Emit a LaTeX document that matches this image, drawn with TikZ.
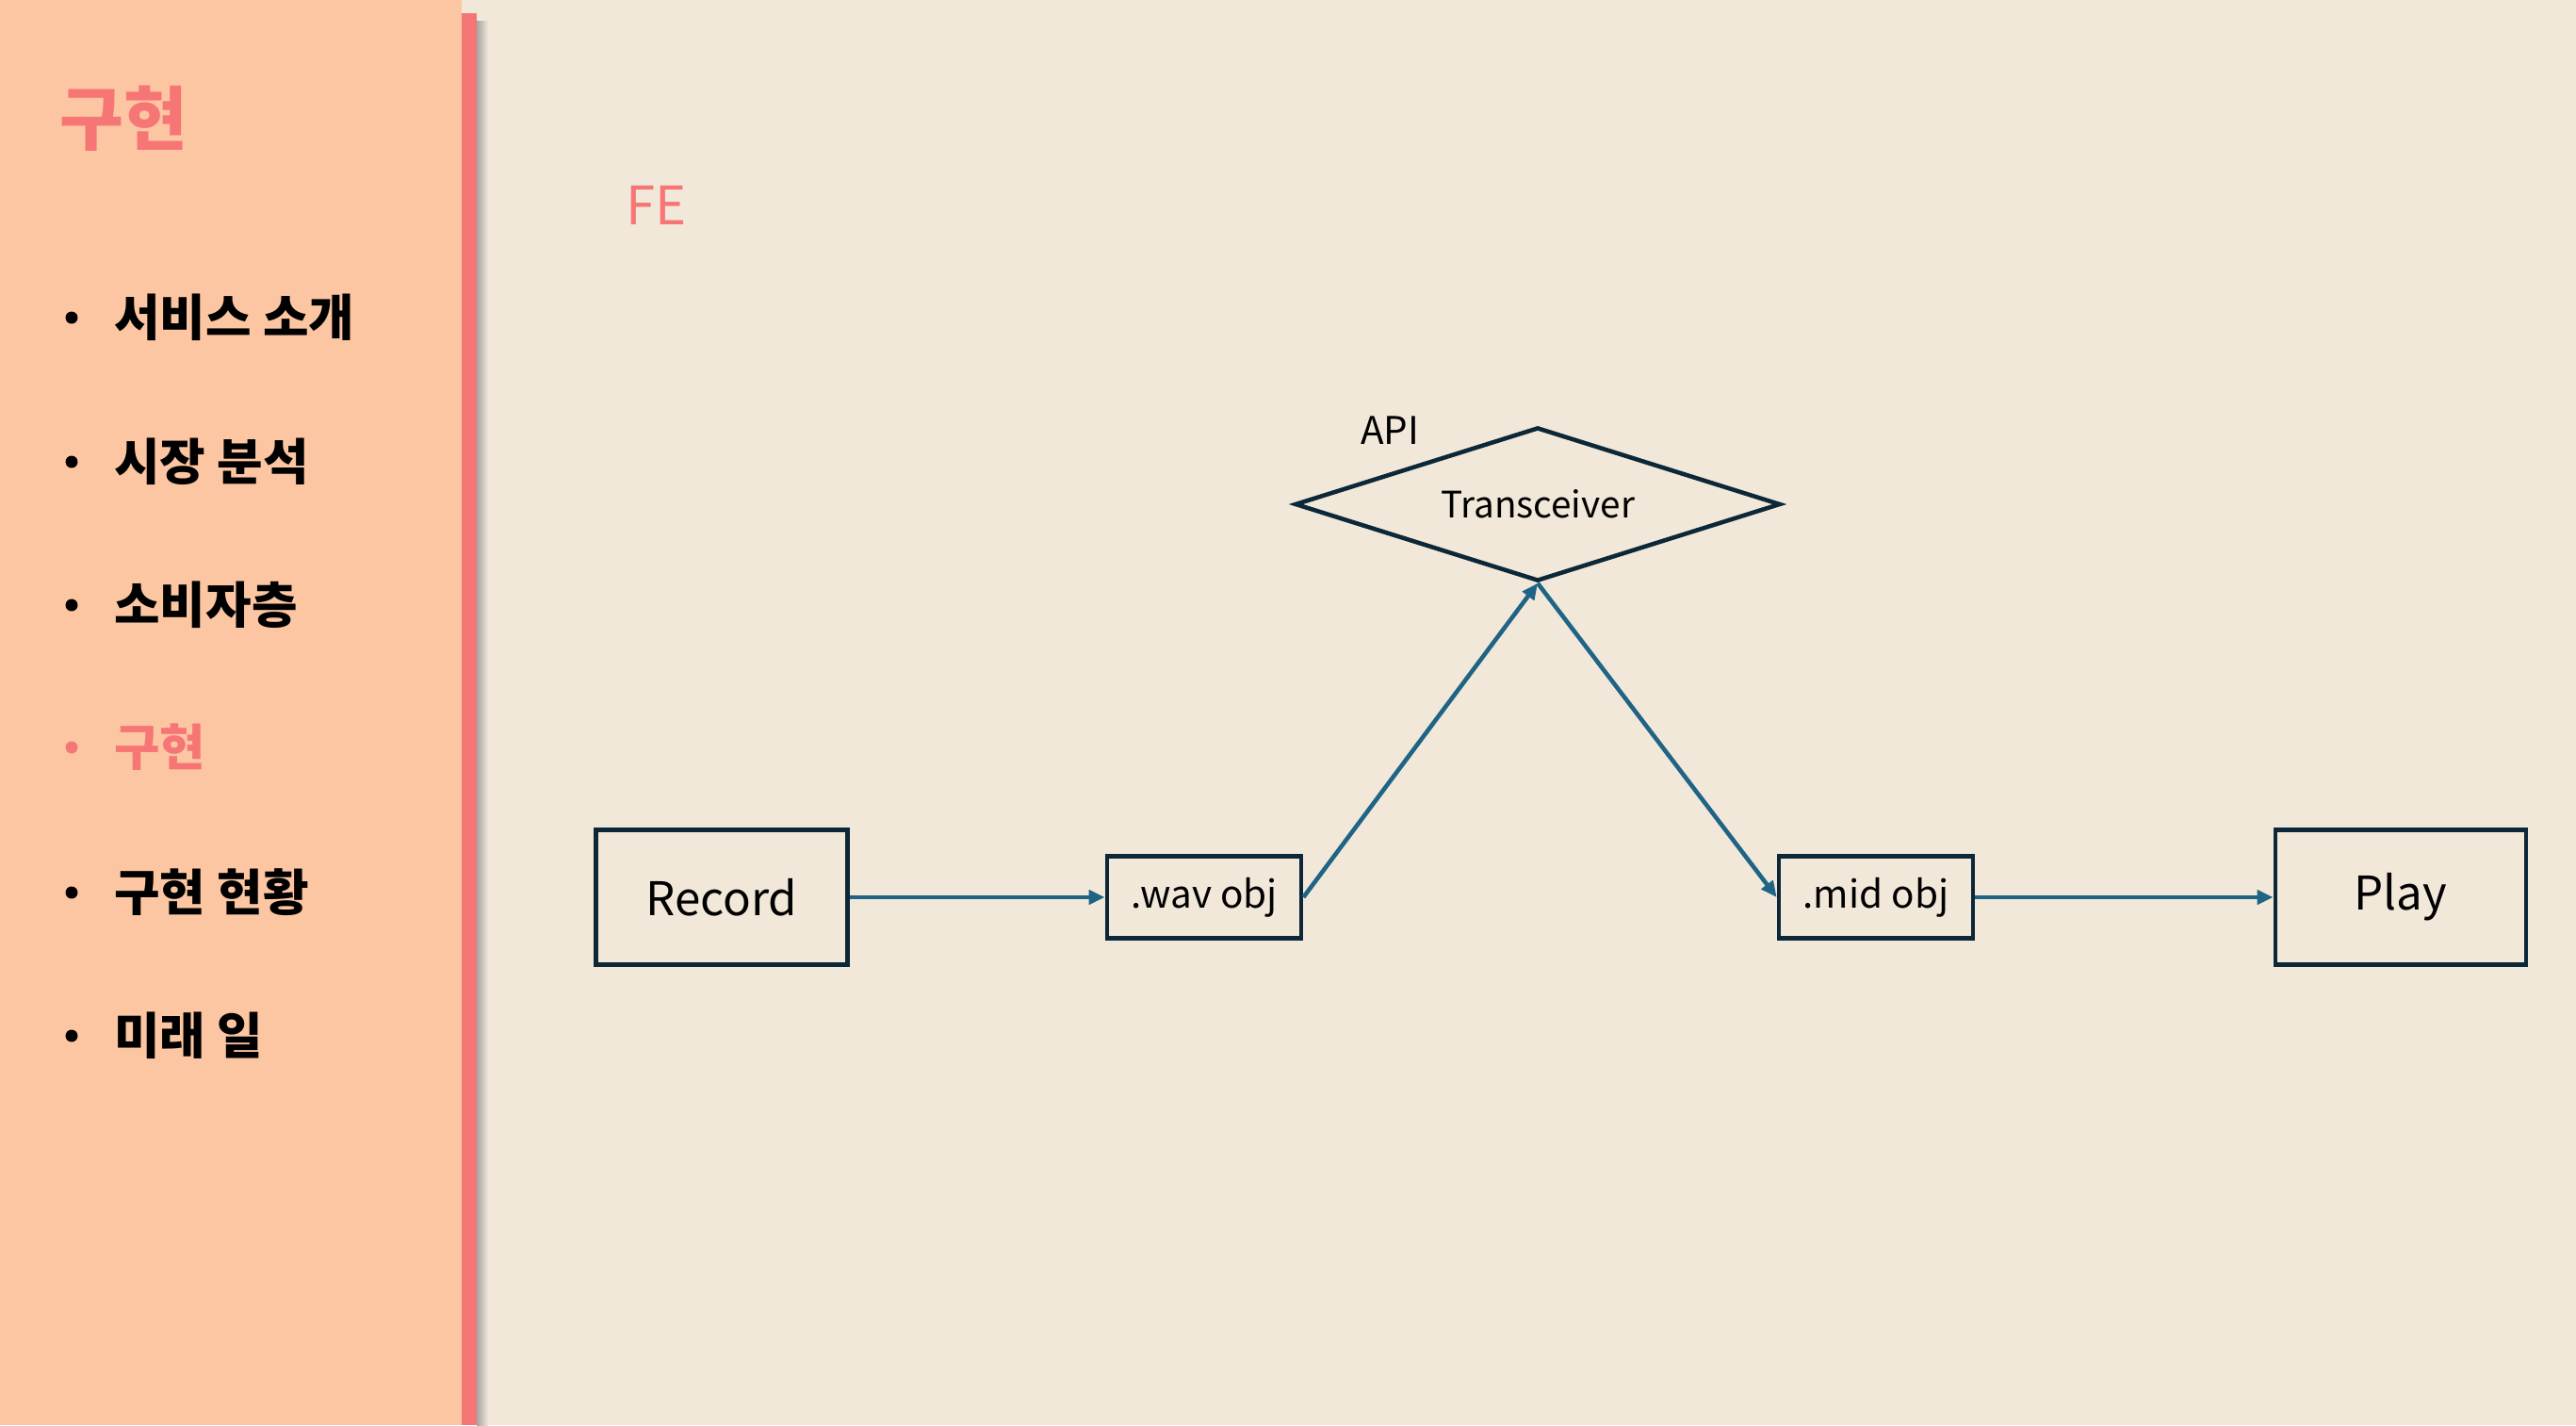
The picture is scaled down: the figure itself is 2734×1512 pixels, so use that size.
\documentclass[tikz,border=0pt]{standalone}
\usepackage{fontspec}
\setmainfont{Noto Sans CJK KR}
\usetikzlibrary{arrows.meta,shapes.geometric}

\definecolor{panelbg}{RGB}{252,198,162}
\definecolor{slidebg}{RGB}{242,232,218}
\definecolor{accent}{RGB}{246,118,118}
\definecolor{boxline}{RGB}{12,40,56}
\definecolor{flowline}{RGB}{31,100,133}

\begin{document}
\begin{tikzpicture}[x=0.01cm,y=-0.01cm]
% slide background and side panel
\fill[slidebg] (0,0) rectangle (2734,1512);
\useasboundingbox (0,0) rectangle (2734,1512);
\fill[panelbg] (0,0) rectangle (490,1512);
\shade[left color=black!35, right color=slidebg] (506,22) rectangle (518,1512);
\fill[accent] (490,14) rectangle (506,1512);

\node[text=accent, font=\fontsize{21}{24}\selectfont\bfseries] (title) at (131,126) {구현};

\begin{scope}[every node/.style={anchor=west, font=\fontsize{15}{18}\selectfont\bfseries}]
    \node (menu1) at (109,337) {서비스 소개};
    \node (menu2) at (109,490) {시장 분석};
    \node (menu3) at (109,642) {소비자층};
    \node[text=accent] (menu4) at (109,793) {구현};
    \node (menu5) at (109,947) {구현 현황};
    \node (menu6) at (109,1099) {미래 일};
\end{scope}
\foreach \y/\c in {337/black, 490/black, 642/black, 793/accent, 947/black, 1099/black}
    \fill[\c] (76,\y) circle (6.5);

\node[text=accent, font=\fontsize{16}{19}\selectfont] (fe) at (697,218) {FE};

\begin{scope}[every node/.style={draw=boxline, line width=1.3pt, inner sep=0pt}]
    \node[minimum width=2.67cm, minimum height=1.43cm, font=\fontsize{14}{17}\selectfont] (record) at (766,952) {Record};
    \node[minimum width=2.06cm, minimum height=0.87cm, font=\fontsize{11.5}{14}\selectfont] (wav) at (1278,952) {.wav obj};
    \node[diamond, aspect=3.16, minimum width=5.15cm, minimum height=1.63cm, font=\fontsize{11}{13}\selectfont] (api) at (1632,535) {Transceiver};
    \node[minimum width=2.06cm, minimum height=0.87cm, font=\fontsize{11.5}{14}\selectfont] (mid) at (1991,952) {.mid obj};
    \node[minimum width=2.66cm, minimum height=1.43cm, font=\fontsize{14}{17}\selectfont] (play) at (2548,952) {Play};
\end{scope}
\node[font=\fontsize{11.5}{14}\selectfont] (apilabel) at (1475,457) {API};

\begin{scope}[>={Triangle[length=0.17cm, width=0.15cm]},
              every edge/.style={draw=flowline, line width=1.3pt}]
    \path [->] (record) edge (wav);
    \path [->] (wav.east) edge (api.south);
    \path [->] (api.south) edge (mid.west);
    \path [->] (mid) edge (play);
\end{scope}
\end{tikzpicture}
\end{document}
